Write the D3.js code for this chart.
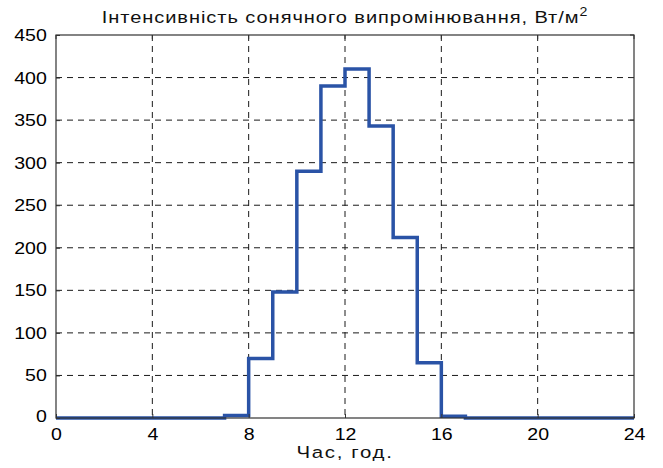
<!DOCTYPE html>
<html><head><meta charset="utf-8">
<script src="https://cdn.jsdelivr.net/npm/d3@7"></script>
<style>body{margin:0;background:#fff}svg{display:block}text{font-family:"Liberation Sans",Arial,sans-serif}</style>
</head><body>
<script>
const hours = [0,1,2,3,4,5,6,7,8,9,10,11,12,13,14,15,16,17,18,19,20,21,22,23];
const intensity = [0,0,0,0,0,0,0,3,70,148,290,390,410,343,212,65,2,0,0,0,0,0,0,0];
const xTicks = [0,4,8,12,16,20,24];
const yTicks = [0,50,100,150,200,250,300,350,400,450];

const W=663,H=468, L=56,R=634,T=35,B=418;
const svg=d3.select("body").append("svg").attr("width",W).attr("height",H);
const x=d3.scaleLinear().domain([0,24]).range([L,R]);
const y=d3.scaleLinear().domain([0,450]).range([B,T]);

// grid
const g=svg.append("g");
g.selectAll("line.vx").data(xTicks.filter(d=>d>0&&d<24)).join("line")
 .attr("x1",d=>x(d)).attr("x2",d=>x(d)).attr("y1",T).attr("y2",B)
 .attr("stroke","#1a1a1a").attr("stroke-width",1).attr("stroke-dasharray","6,5");
g.selectAll("line.hy").data(yTicks.filter(d=>d>0&&d<450)).join("line")
 .attr("x1",L).attr("x2",R).attr("y1",d=>y(d)).attr("y2",d=>y(d))
 .attr("stroke","#1a1a1a").attr("stroke-width",1).attr("stroke-dasharray","6,5");

// data step line
const pts=[];
hours.forEach((h,i)=>{pts.push([h,intensity[i]]);pts.push([h+1,intensity[i]]);});
svg.append("path").datum(pts)
 .attr("d",d3.line().x(d=>x(d[0])).y(d=>y(d[1])))
 .attr("fill","none").attr("stroke","#2a53a6").attr("stroke-width",3.5).attr("stroke-linejoin","miter");

// box
svg.append("rect").attr("x",L).attr("y",T).attr("width",R-L).attr("height",B-T)
 .attr("fill","none").attr("stroke","#333").attr("stroke-width",1.2);

const SX=1.15;
// axes
const xa=svg.append("g").attr("transform",`translate(0,${B})`)
 .call(d3.axisBottom(x).tickValues(xTicks).tickSize(-4).tickPadding(8).tickFormat(d3.format("d")));
const ya=svg.append("g").attr("transform",`translate(${L},0)`)
 .call(d3.axisLeft(y).tickValues(yTicks).tickSize(-4).tickPadding(8).tickFormat(d3.format("d")));
[xa,ya].forEach(a=>{a.select(".domain").remove();a.selectAll(".tick line").attr("stroke","#333");
 a.selectAll("text").attr("font-size",17).attr("fill","#000").attr("transform",`scale(${SX},1)`)
  .attr("font-family",'"Liberation Sans",Arial,sans-serif');});
xa.selectAll(".tick text").attr("dy","0.8em");
ya.selectAll(".tick text").filter(d=>d===0).attr("dy","0.2em");
// top/right ticks
svg.append("g").selectAll("line").data(xTicks).join("line")
 .attr("x1",d=>x(d)).attr("x2",d=>x(d)).attr("y1",T).attr("y2",T+4).attr("stroke","#333");
svg.append("g").selectAll("line").data(yTicks).join("line")
 .attr("x1",R).attr("x2",R-4).attr("y1",d=>y(d)).attr("y2",d=>y(d)).attr("stroke","#333");

// title
const t=svg.append("text").attr("transform",`translate(${(L+R)/2},23) scale(1.18,1)`).attr("text-anchor","middle")
 .attr("font-size",17).attr("fill","#111").attr("letter-spacing",0.8);
t.append("tspan").text("Інтенсивність сонячного випромінювання, Вт/м");
t.append("tspan").text("2").attr("font-size",12).attr("dy",-7);

svg.append("text").attr("transform",`translate(${x(12)},458) scale(1.2,1)`).attr("text-anchor","middle")
 .attr("font-size",17).attr("fill","#111").attr("letter-spacing",1.4).text("Час, год.");
</script>
</body></html>
